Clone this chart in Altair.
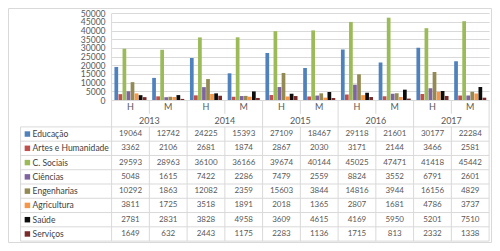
import altair as alt
import pandas as pd

# ---- data ----
series = ["Educação", "Artes e Humanidade", "C. Sociais", "Ciências",
          "Engenharias", "Agricultura", "Saúde", "Serviços"]
colors = ["#4F81BD", "#C0504D", "#9BBB59", "#8064A2",
          "#948A54", "#F79646", "#0D0D0D", "#7B2C2A"]
years = ["2013", "2014", "2015", "2016", "2017"]
sexes = ["H", "M"]
y_ticks = [0, 5000, 10000, 15000, 20000, 25000, 30000, 35000, 40000, 45000, 50000]

educacao = [19064, 12742, 24225, 15393, 27109, 18467, 29118, 21601, 30177, 22284]
artes = [3362, 2106, 2681, 1874, 2867, 2030, 3171, 2144, 3466, 2581]
c_sociais = [29593, 28963, 36100, 36166, 39674, 40144, 45025, 47471, 41418, 45442]
ciencias = [5048, 1615, 7422, 2286, 7479, 2559, 8824, 3552, 6791, 2601]
engenharias = [10292, 1863, 12082, 2359, 15603, 3844, 14816, 3944, 16156, 4829]
agricultura = [3811, 1725, 3518, 1891, 2018, 1365, 2807, 1681, 4786, 3737]
saude = [2781, 2831, 3828, 4958, 3609, 4615, 4169, 5950, 5201, 7510]
servicos = [1649, 632, 2443, 1175, 2283, 1136, 1715, 813, 2332, 1338]

all_values = [educacao, artes, c_sociais, ciencias, engenharias,
              agricultura, saude, servicos]

cols = [f"{y} {s}" for y in years for s in sexes]
rows = []
for name, vals in zip(series, all_values):
    for col, v in zip(cols, vals):
        rows.append({"serie": name, "col": col, "valor": v})
df = pd.DataFrame(rows)
cols_df = pd.DataFrame({"col": cols,
                        "ano": [c[:4] for c in cols],
                        "sexo": [c[5:] for c in cols]})
years_df = pd.DataFrame({"ano": years})
series_df = pd.DataFrame({"serie": series})

# ---- layout ----
W = 377.5
H = 235
PAD_L = 103.6
PAD_R = 2.9
Y0 = 92.0
YTOP = 5.3
TABLE_TOP = 118.9
TABLE_BOT = 233.1
HM_Y = 98.8
YEAR_Y = 112.5
HM_SEP_BOT = 105.8
LBL_LINE_X = -91.0
GRID = "#d9d9d9"
TXT = "#595959"
FONT = "Lato"

xs = alt.Scale(domain=cols, range=[0, W], paddingInner=0, paddingOuter=0)
xy = alt.Scale(domain=years, range=[0, W], paddingInner=0, paddingOuter=0)
ys = alt.Scale(domain=series, range=[TABLE_TOP, TABLE_BOT], paddingInner=0, paddingOuter=0)
cs = alt.Scale(domain=series, range=colors)

bars = alt.Chart(df).mark_bar().encode(
    x=alt.X("col:N", scale=xs, axis=None),
    xOffset=alt.XOffset("serie:N", scale=alt.Scale(domain=series, paddingInner=0.08, paddingOuter=0.7)),
    y=alt.Y("valor:Q", scale=alt.Scale(domain=[0, 50000], range=[Y0, YTOP], nice=False),
            axis=alt.Axis(values=y_ticks, format="d", title=None, domain=False, ticks=False,
                          grid=True, gridColor=GRID, gridWidth=1, labelPadding=6.5,
                          labelOverlap=False, labelFont=FONT, labelFontSize=8.6,
                          labelColor="#595959")),
    color=alt.Color("serie:N", scale=cs, legend=None),
)

table = alt.Chart(df).mark_text(font=FONT, fontSize=8, color=TXT).encode(
    x=alt.X("col:N", scale=xs, axis=None),
    y=alt.Y("serie:N", scale=ys, axis=None),
    text=alt.Text("valor:Q", format="d"),
)

hm_labels = alt.Chart(cols_df).mark_text(font=FONT, fontSize=9, color="#595959").encode(
    x=alt.X("col:N", scale=xs, axis=None),
    y=alt.value(HM_Y),
    text="sexo:N",
)

year_labels = alt.Chart(years_df).mark_text(font=FONT, fontSize=9, color="#595959").encode(
    x=alt.X("ano:N", scale=xy, axis=None),
    y=alt.value(YEAR_Y),
    text="ano:N",
)

h_cols = cols_df[cols_df["sexo"] == "H"]
m_cols = cols_df[cols_df["sexo"] == "M"]

vline_years = alt.Chart(h_cols.iloc[1:]).mark_rule(color=GRID).encode(
    x=alt.X("col:N", scale=xs, axis=None, bandPosition=0),
    y=alt.value(Y0), y2=alt.value(TABLE_BOT),
)
vline_left = alt.Chart(h_cols.iloc[:1]).mark_rule(color=GRID).encode(
    x=alt.X("col:N", scale=xs, axis=None, bandPosition=0),
    y=alt.value(YTOP), y2=alt.value(TABLE_BOT),
)
vline_hm_top = alt.Chart(m_cols).mark_rule(color=GRID).encode(
    x=alt.X("col:N", scale=xs, axis=None, bandPosition=0),
    y=alt.value(Y0), y2=alt.value(HM_SEP_BOT),
)
vline_hm_tbl = alt.Chart(m_cols).mark_rule(color=GRID).encode(
    x=alt.X("col:N", scale=xs, axis=None, bandPosition=0),
    y=alt.value(TABLE_TOP), y2=alt.value(TABLE_BOT),
)
vline_right = alt.Chart(cols_df.iloc[-1:]).mark_rule(color=GRID).encode(
    x=alt.X("col:N", scale=xs, axis=None, bandPosition=1),
    y=alt.value(Y0), y2=alt.value(TABLE_BOT),
)
vline_lbl = alt.Chart(series_df.iloc[:1]).mark_rule(color=GRID).encode(
    x=alt.value(LBL_LINE_X), y=alt.value(TABLE_TOP), y2=alt.value(TABLE_BOT),
)

hlines = alt.Chart(series_df).mark_rule(color=GRID).encode(
    y=alt.Y("serie:N", scale=ys, axis=None, bandPosition=0),
    x=alt.value(LBL_LINE_X), x2=alt.value(W),
)
hline_bot = alt.Chart(series_df.iloc[-1:]).mark_rule(color=GRID).encode(
    y=alt.Y("serie:N", scale=ys, axis=None, bandPosition=1),
    x=alt.value(LBL_LINE_X), x2=alt.value(W),
)

keys = alt.Chart(series_df).mark_square(size=30, opacity=1).encode(
    x=alt.value(-84.2),
    y=alt.Y("serie:N", scale=ys, axis=None),
    color=alt.Color("serie:N", scale=cs, legend=None),
)
key_labels = alt.Chart(series_df).mark_text(font=FONT, fontSize=8.5, color="#404040", align="left").encode(
    x=alt.value(-79.0),
    y=alt.Y("serie:N", scale=ys, axis=None),
    text="serie:N",
)

border = alt.Chart(series_df.iloc[:1]).mark_rect(fillOpacity=0, stroke=GRID, strokeWidth=1).encode(
    x=alt.value(-PAD_L + 0.5), x2=alt.value(W + PAD_R - 0.5),
    y=alt.value(0.5), y2=alt.value(H - 0.5),
)

chart = alt.layer(
    border, bars, vline_years, vline_left, vline_hm_top, vline_hm_tbl, vline_right,
    vline_lbl, hlines, hline_bot, table, hm_labels, year_labels, keys, key_labels,
).resolve_scale(
    x="independent", y="independent"
).properties(
    width=W, height=H,
    autosize=alt.AutoSizeParams(type="none"),
    padding={"left": PAD_L, "top": 0, "right": PAD_R, "bottom": 0},
    background="white",
).configure_view(stroke=None)

chart.save("out.html", embed_options={"renderer": "svg", "actions": False})
